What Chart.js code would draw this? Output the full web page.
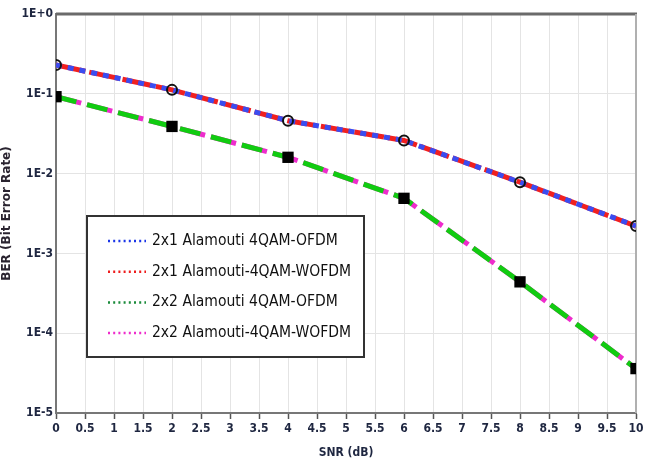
<!DOCTYPE html>
<html>
<head>
<meta charset="utf-8">
<script src="https://cdn.jsdelivr.net/npm/chart.js@4/dist/chart.umd.min.js"></script>
<style>
    html, body { margin: 0; padding: 0; background: #fff; }
    #wrap { width: 651px; height: 464px; }
</style>
</head>
<body>
<div id="wrap"><canvas id="chart"></canvas></div>
<script>
const snr = [0, 2, 4, 6, 8, 10];
const seriesLabels = [
    '2x1 Alamouti 4QAM-OFDM',
    '2x1 Alamouti-4QAM-WOFDM',
    '2x2 Alamouti 4QAM-OFDM',
    '2x2 Alamouti-4QAM-WOFDM'
];
const ber2x1Ofdm = [0.23, 0.112, 0.046, 0.026, 0.0078, 0.0022];
const ber2x1Wofdm = [0.23, 0.112, 0.046, 0.026, 0.0078, 0.0022];
const ber2x2Ofdm = [0.092, 0.039, 0.016, 0.0049, 0.00044, 0.000036];
const ber2x2Wofdm = [0.092, 0.039, 0.016, 0.0049, 0.00044, 0.000036];
const legendColors = ['#1a35e8', '#ee1c1c', '#1a8a3a', '#ee2ccc'];

const FONT = "'Liberation Sans Narrow', 'DejaVu Sans Condensed', sans-serif";
const TEXT = '#1e2640';

function points(ys) {
    return snr.map((x, i) => ({x, y: ys[i]}));
}

// legend box drawn inside the plot, like the original
const insideLegend = {
    id: 'insideLegend',
    afterDraw(chart) {
        const ctx = chart.ctx;
        const area = chart.chartArea;
        const x0 = area.left + 31, y0 = area.top + 202, w = 277, h = 141;

        ctx.save();
        ctx.fillStyle = '#fff';
        ctx.fillRect(x0, y0, w, h);
        ctx.strokeStyle = '#333';
        ctx.lineWidth = 2;
        ctx.strokeRect(x0, y0, w, h);

        ctx.font = '15.5px ' + FONT;
        ctx.textBaseline = 'middle';
        seriesLabels.forEach((label, i) => {
            const y = y0 + 25 + i * 30.7;
            ctx.strokeStyle = legendColors[i];
            ctx.lineWidth = 2.5;
            ctx.setLineDash([2, 3.2]);
            ctx.beginPath();
            ctx.moveTo(x0 + 21, y);
            ctx.lineTo(x0 + 59, y);
            ctx.stroke();
            ctx.setLineDash([]);
            ctx.fillStyle = '#111';
            ctx.fillText(label, x0 + 65, y);
        });
        ctx.restore();
    }
};

// top and right frame of the plot area
const frame = {
    id: 'frame',
    beforeDatasetsDraw(chart) {
        const ctx = chart.ctx;
        const a = chart.chartArea;
        ctx.save();
        ctx.strokeStyle = '#6a6a6a';
        ctx.lineWidth = 3;
        ctx.beginPath();
        ctx.moveTo(a.left, a.top);
        ctx.lineTo(a.right + 1, a.top);
        ctx.stroke();
        ctx.strokeStyle = '#b0b0b0';
        ctx.lineWidth = 2;
        ctx.beginPath();
        ctx.moveTo(a.right, a.top);
        ctx.lineTo(a.right, a.bottom);
        ctx.stroke();
        ctx.restore();
    }
};

new Chart(document.getElementById('chart'), {
    type: 'line',
    data: {
        datasets: [
            {
                label: seriesLabels[0],
                data: points(ber2x1Ofdm),
                borderColor: '#3b4cf0',
                borderWidth: 5,
                borderDash: [6, 6],
                pointStyle: 'circle',
                pointRadius: 5,
                pointBorderWidth: 2,
                pointBorderColor: '#111',
                pointBackgroundColor: 'rgba(0,0,0,0)',
                clip: 0
            },
            {
                label: seriesLabels[1],
                data: points(ber2x1Wofdm),
                borderColor: '#f02020',
                borderWidth: 5,
                borderDash: [30, 4],
                pointRadius: 0,
                clip: 0
            },
            {
                label: seriesLabels[2],
                data: points(ber2x2Ofdm),
                borderColor: '#11cc11',
                borderWidth: 5,
                borderDash: [21, 11],
                pointStyle: 'rect',
                pointRadius: 8,
                pointBorderWidth: 0,
                pointBackgroundColor: '#000',
                clip: 0
            },
            {
                label: seriesLabels[3],
                data: points(ber2x2Wofdm),
                borderColor: '#ee2ccc',
                borderWidth: 5,
                borderDash: [26, 6],
                pointRadius: 0,
                clip: 0
            }
        ]
    },
    options: {
        responsive: true,
        maintainAspectRatio: false,
        animation: false,
        layout: {padding: {left: 0, right: 15, top: 14, bottom: 0}},
        plugins: {
            legend: {display: false},
            tooltip: {enabled: false}
        },
        scales: {
            x: {
                type: 'linear',
                min: 0,
                max: 10,
                ticks: {
                    stepSize: 0.5,
                    color: TEXT,
                    padding: 3,
                    font: {family: FONT, size: 12, weight: 'bold'},
                    maxRotation: 0,
                    autoSkip: false,
                    callback: v => String(v)
                },
                grid: {
                    color: '#e4e4e4',
                    lineWidth: 1,
                    tickLength: 6,
                    tickColor: '#555',
                    tickWidth: 1.5
                },
                border: {color: '#777', width: 2},
                title: {
                    display: true,
                    text: 'SNR (dB)',
                    color: TEXT,
                    font: {family: FONT, size: 12, weight: 'bold'},
                    padding: {top: 8}
                },
                afterFit(scale) { scale.height = 51; }
            },
            y: {
                type: 'logarithmic',
                min: 1e-5,
                max: 1,
                afterBuildTicks(scale) {
                    scale.ticks = [1e-5, 1e-4, 1e-3, 1e-2, 1e-1, 1].map(v => ({value: v, major: true}));
                },
                ticks: {
                    color: TEXT,
                    padding: 3,
                    font: {family: FONT, size: 12, weight: 'bold'},
                    callback(v) {
                        const e = Math.round(Math.log10(v));
                        return '1E' + (e >= 0 ? '+' : '') + e;
                    }
                },
                grid: {
                    color: '#e4e4e4',
                    lineWidth: 1,
                    drawTicks: false
                },
                border: {color: '#777', width: 2},
                title: {
                    display: true,
                    text: 'BER (Bit Error Rate)',
                    color: '#2a2430',
                    font: {family: "'DejaVu Sans', sans-serif", size: 12, weight: 'bold'},
                    padding: {top: 0, bottom: 2}
                },
                afterFit(scale) { scale.width = 56; }
            }
        }
    },
    plugins: [frame, insideLegend]
});
</script>
</body>
</html>
